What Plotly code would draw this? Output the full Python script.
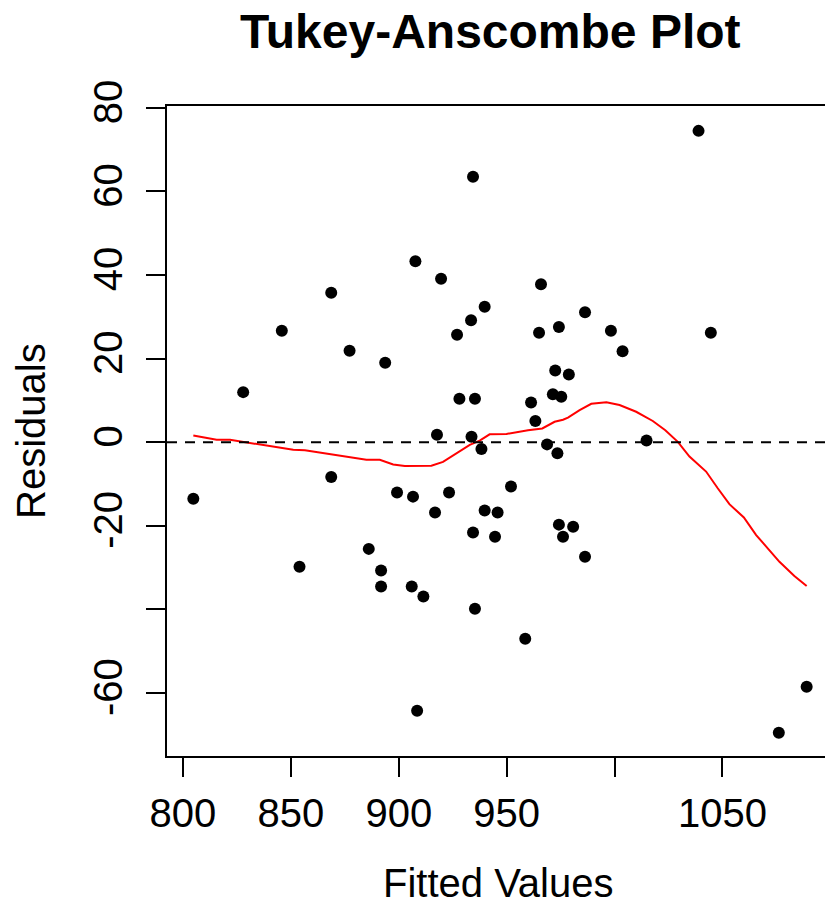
import plotly.graph_objects as go

# ---- data ----
fitted = [804.8, 827.9, 845.8, 854.0, 868.7, 868.7, 877.2, 886.1, 891.8, 891.8,
          893.7, 899.2, 906.0, 906.6, 907.7, 908.5, 911.4, 916.8, 917.7, 919.6,
          923.3, 927.0, 928.1, 933.5, 933.7, 934.4, 934.4, 935.3, 935.3, 938.3,
          939.8, 939.8, 944.6, 945.8, 952.0, 958.6, 961.3, 963.3, 965.0, 965.9,
          968.7, 971.4, 972.5, 973.5, 974.2, 974.2, 975.3, 976.1, 978.8, 980.8,
          986.3, 986.3, 998.3, 1003.7, 1014.8, 1038.9, 1044.6, 1076.1, 1089.0]
residuals = [-13.5, 12.0, 26.7, -29.8, 35.8, -8.3, 21.9, -25.5, -30.7, -34.5,
             19.0, -12.0, -34.5, -13.0, 43.3, -64.2, -36.9, -16.8, 1.8, 39.1,
             -12.0, 25.7, 10.4, 29.2, 1.3, 63.5, -21.6, 10.4, -39.8, -1.6,
             32.4, -16.3, -22.6, -16.8, -10.6, -47.0, 9.5, 5.1, 26.2, 37.8,
             -0.5, 11.5, 17.2, -2.6, 27.6, -19.7, 10.9, -22.6, 16.2, -20.2,
             31.1, -27.4, 26.7, 21.8, 0.4, 74.5, 26.2, -69.5, -58.5]

smooth_x = [804.8, 815.6, 821.8, 851.1, 856.5, 885.0, 891.2, 897.4, 902.8, 915.1,
            920.5, 926.7, 932.9, 937.5, 942.1, 949.9, 959.9, 966.5, 972.2, 976.1,
            978.4, 983.8, 989.2, 996.2, 1002.3, 1010.0, 1017.7, 1023.5, 1029.3,
            1034.7, 1042.4, 1047.8, 1053.2, 1059.9, 1065.6, 1076.4, 1083.3, 1089.0]
smooth_y = [1.6, 0.6, 0.6, -1.8, -1.9, -4.2, -4.2, -5.3, -5.7, -5.6,
            -4.7, -2.6, -0.6, 0.4, 1.9, 2.0, 2.9, 3.3, 4.9, 5.4,
            5.9, 7.7, 9.2, 9.6, 8.9, 7.3, 5.1, 2.9, 0.1,
            -3.4, -7.0, -11.0, -14.8, -18.0, -22.2, -28.6, -32.0, -34.4]

x_ticks = [800, 850, 900, 950, 1000, 1050]
x_tick_labels = ["800", "850", "900", "950", "", "1050"]
y_ticks = [80, 60, 40, 20, 0, -20, -40, -60]
y_tick_labels = ["80", "60", "40", "20", "0", "-20", "", "-60"]
ref_level = 0

FONT = "Liberation Sans, Arial, Helvetica, sans-serif"

fig = go.Figure()
fig.add_trace(go.Scatter(x=fitted, y=residuals, mode="markers",
                         marker=dict(color="black", size=12, line=dict(width=0)),
                         showlegend=False, cliponaxis=False))
fig.add_trace(go.Scatter(x=smooth_x, y=smooth_y, mode="lines",
                         line=dict(color="#ff0000", width=2),
                         showlegend=False))

fig.add_shape(type="line", xref="paper", x0=0, x1=1, yref="y",
              y0=ref_level, y1=ref_level,
              line=dict(color="black", width=2, dash="10px,8px"))

fig.update_layout(
    width=825, height=907,
    margin=dict(l=167, r=0, t=106, b=151),
    paper_bgcolor="white", plot_bgcolor="white",
    font=dict(family=FONT, color="black", size=40),
    xaxis=dict(range=[792.6, 1097.5], tickvals=x_ticks, ticktext=x_tick_labels,
               showgrid=False, zeroline=False, showline=True, mirror=True,
               linecolor="black", linewidth=2, ticks="outside", ticklen=19,
               tickwidth=2, tickcolor="black", tickfont=dict(size=40),
               ticklabelstandoff=2),
    yaxis=dict(range=[-75.05, 80.45], tickvals=y_ticks, ticktext=y_tick_labels,
               showgrid=False, zeroline=False, showline=True, mirror=False,
               linecolor="black", linewidth=2, ticks="outside", ticklen=19,
               tickwidth=2, tickcolor="black", tickangle=-90,
               tickfont=dict(size=40), ticklabelstandoff=8),
    annotations=[
        dict(text="<b>Tukey-Anscombe Plot</b>", xref="paper", yref="paper",
             x=(490 - 167) / 658, y=(756 - 32) / 650, xanchor="center",
             yanchor="middle", showarrow=False, font=dict(size=48)),
        dict(text="Fitted Values", xref="paper", yref="paper",
             x=(498 - 167) / 658, y=(756 - 906) / 650, xanchor="center",
             yanchor="bottom", showarrow=False, borderpad=0,
             font=dict(size=40)),
        dict(text="Residuals", xref="paper", yref="paper",
             x=(31 - 167) / 658, y=(756 - 431) / 650, xanchor="center",
             yanchor="middle", showarrow=False, textangle=-90,
             font=dict(size=40)),
    ],
)

fig.write_html("out.html")
